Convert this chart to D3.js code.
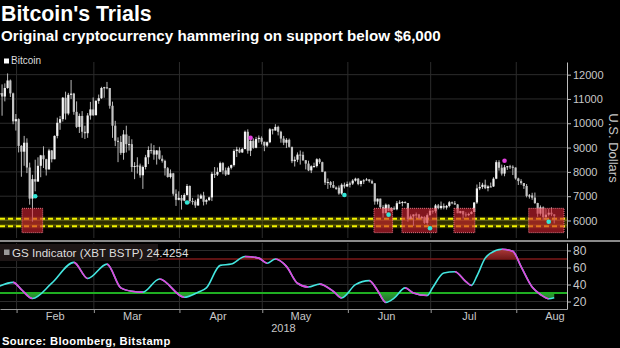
<!DOCTYPE html>
<html>
<head>
<meta charset="utf-8">
<script src="https://cdn.jsdelivr.net/npm/d3@7"></script>
<style>
  html, body { margin: 0; padding: 0; background: #000; }
  svg { display: block; }
  text { font-family: "Liberation Sans", Arial, sans-serif; }
</style>
</head>
<body>
<svg id="chart" width="620" height="348"></svg>
<script>
// ---- Bitcoin daily candles (Bitstamp, USD), 2018-01-25 .. 2018-08-14 ----
const firstDay = "2018-01-25";
const opens = [
  11180, 11240, 11100, 11450, 11760, 11230, 10080,
  10170, 9070, 8830, 9200, 8180, 6900, 7700, 7600, 8250, 8680, 8520, 8100, 8880, 8520, 9480, 10020, 10170, 11050, 10400, 11170, 11220, 10470, 9850, 10300, 9650, 9590, 10320, 10570,
  10330, 10920, 11030, 11450, 11480, 11450, 10720, 9900, 9280, 9230, 8780, 9540, 9140, 9140, 8200, 8240, 8260, 7860, 8200, 8600, 8900, 8890, 8710, 8880, 8540, 8450, 8150, 7790, 7940, 7100, 6850,
  6930, 6820, 7050, 7420, 6800, 6780, 6620, 6900, 7030, 6770, 6840, 6950, 7920, 7890, 8000, 8360, 8060, 7890, 8170, 8280, 8860, 8920, 8800, 8940, 9650, 8870, 9280, 8990, 9350, 9400,
  9240, 9080, 9220, 9750, 9700, 9850, 9650, 9370, 9200, 9320, 9030, 8440, 8500, 8710, 8700, 8480, 8340, 8060, 8230, 8240, 8520, 8400, 8000, 7560, 7580, 7460, 7350, 7350, 7110, 7470, 7400,
  7500, 7520, 7640, 7720, 7500, 7630, 7650, 7690, 7620, 7530, 6780, 6900, 6550, 6300, 6650, 6400, 6500, 6460, 6710, 6740, 6760, 6720, 6060, 6170, 6250, 6250, 6090, 6150, 5900, 6220,
  6400, 6380, 6620, 6510, 6600, 6530, 6600, 6750, 6710, 6660, 6300, 6390, 6250, 6220, 6270, 6350, 6740, 7320, 7380, 7470, 7330, 7400, 7400, 7720, 8400, 8170, 7930, 8190, 8230, 8210, 8180,
  7730, 7620, 7540, 7420, 7010, 7030, 6940, 6720, 6280, 6540, 6140, 6240, 6320, 6250
];
const highs = [
  11650, 11600, 11640, 12050, 11800, 11260, 10380,
  10200, 9100, 9480, 9380, 8380, 7880, 8500, 8600, 8700, 9050, 8540, 8950, 8900, 9500, 10230, 10300, 11080, 11300, 11250, 11780, 11250, 10900, 10400, 10500, 9900, 10420, 10880, 11060,
  10950, 11180, 11500, 11500, 11700, 11450, 10890, 10100, 9420, 9480, 9720, 9900, 9480, 9340, 8400, 8600, 8340, 8260, 8700, 9050, 9170, 9100, 8900, 9030, 8680, 8500, 8200, 8100, 7960, 7280, 7200,
  7050, 7120, 7500, 7440, 6930, 6850, 7070, 7100, 7180, 6890, 6980, 8000, 8200, 8180, 8420, 8400, 8180, 8230, 8300, 8930, 9030, 9000, 8990, 9700, 9750, 9300, 9380, 9440, 9500, 9460,
  9240, 9250, 9800, 9770, 9960, 9900, 9690, 9480, 9390, 9370, 9030, 8630, 8800, 8880, 8830, 8490, 8460, 8270, 8380, 8560, 8560, 8420, 8030, 7730, 7620, 7620, 7400, 7440, 7530, 7560, 7600,
  7600, 7700, 7760, 7750, 7640, 7700, 7750, 7700, 7680, 7530, 6900, 6900, 6630, 6700, 6660, 6550, 6580, 6800, 6830, 6800, 6790, 6720, 6250, 6250, 6330, 6270, 6190, 6170, 6290, 6480,
  6420, 6680, 6680, 6780, 6700, 6640, 6800, 6780, 6800, 6680, 6400, 6400, 6340, 6320, 6390, 6750, 7480, 7580, 7550, 7680, 7450, 7560, 7780, 8480, 8480, 8300, 8280, 8240, 8290, 8270, 8180,
  7760, 7700, 7540, 7500, 7090, 7140, 7150, 6730, 6620, 6580, 6470, 6470, 6540, 6260
];
const lows = [
  10950, 10310, 10900, 11420, 11080, 9960, 9700,
  8800, 7800, 8250, 7950, 6650, 5950, 7200, 7600, 7780, 8160, 7850, 8100, 8390, 8520, 9380, 9730, 10070, 10150, 10330, 11000, 10350, 9800, 9600, 9400, 9350, 9400, 10150, 10300,
  10330, 10800, 11000, 11050, 11400, 10600, 9400, 9060, 8400, 8700, 8500, 8800, 8880, 8000, 7700, 7930, 7760, 7300, 8100, 8320, 8750, 8500, 8300, 8500, 8380, 7850, 7760, 7730, 7020, 6600, 6830,
  6450, 6790, 7020, 6700, 6650, 6520, 6600, 6900, 6620, 6660, 6800, 6800, 7750, 7830, 7990, 7900, 7830, 7880, 8100, 8220, 8610, 8770, 8780, 8930, 8750, 8650, 8950, 8970, 9200, 9130,
  8850, 9020, 9180, 9540, 9700, 9500, 9200, 9100, 8980, 9000, 8360, 8220, 8400, 8300, 8450, 8100, 8030, 7950, 8170, 8180, 8330, 7990, 7460, 7300, 7350, 7330, 7260, 7060, 7060, 7320, 7380,
  7360, 7460, 7600, 7450, 7400, 7500, 7640, 7560, 7500, 6650, 6660, 6500, 6120, 6300, 6390, 6350, 6440, 6420, 6680, 6580, 6700, 5950, 6050, 5780, 6100, 6060, 6030, 5860, 5820, 6200,
  6280, 6300, 6460, 6450, 6460, 6450, 6540, 6670, 6640, 6300, 6290, 6080, 6150, 6180, 6250, 6340, 6680, 7250, 7300, 7290, 7200, 7380, 7380, 7700, 8050, 7850, 7820, 8080, 8120, 7870, 7680,
  7460, 7470, 7300, 6950, 6900, 6850, 6680, 6150, 6200, 6030, 6020, 6170, 6180, 5880
];
const closes = [
  11240, 11100, 11450, 11760, 11230, 10080, 10170,
  9070, 8830, 9200, 8180, 6900, 7700, 7600, 8250, 8680, 8520, 8100, 8880, 8520, 9480, 10020, 10170, 11050, 10400, 11170, 11220, 10470, 9850, 10300, 9650, 9590, 10320, 10570, 10330,
  10920, 11030, 11450, 11480, 11450, 10720, 9900, 9280, 9230, 8780, 9540, 9140, 9140, 8200, 8240, 8260, 7860, 8200, 8600, 8900, 8890, 8710, 8880, 8540, 8450, 8150, 7790, 7940, 7100, 6850, 6930,
  6820, 7050, 7420, 6800, 6780, 6620, 6900, 7030, 6770, 6840, 6950, 7920, 7890, 8000, 8360, 8060, 7890, 8170, 8280, 8860, 8920, 8800, 8940, 9650, 8870, 9280, 8990, 9350, 9400, 9240,
  9080, 9220, 9750, 9700, 9850, 9650, 9370, 9200, 9320, 9030, 8440, 8500, 8710, 8700, 8480, 8340, 8060, 8230, 8240, 8520, 8400, 8000, 7560, 7580, 7460, 7350, 7350, 7110, 7470, 7400, 7500,
  7520, 7640, 7720, 7500, 7630, 7650, 7690, 7620, 7530, 6780, 6900, 6550, 6300, 6650, 6400, 6500, 6460, 6710, 6740, 6760, 6720, 6060, 6170, 6250, 6250, 6090, 6150, 5900, 6220, 6400,
  6380, 6620, 6510, 6600, 6530, 6600, 6750, 6710, 6660, 6300, 6390, 6250, 6220, 6270, 6350, 6740, 7320, 7380, 7470, 7330, 7400, 7400, 7720, 8400, 8170, 7930, 8190, 8230, 8210, 8180, 7730,
  7620, 7540, 7420, 7010, 7030, 6940, 6720, 6280, 6540, 6140, 6240, 6320, 6250, 6190
];

// ---- GS Indicator (XBT BSTP) ----
const gsDates = [
  "2018-01-25", "2018-01-30", "2018-02-02", "2018-02-06", "2018-02-13", "2018-02-21", "2018-02-26",
  "2018-03-05", "2018-03-10", "2018-03-14", "2018-03-18", "2018-03-24", "2018-04-02", "2018-04-07",
  "2018-04-10", "2018-04-15", "2018-04-19", "2018-04-24", "2018-04-29", "2018-05-02", "2018-05-05",
  "2018-05-09", "2018-05-13", "2018-05-17", "2018-05-21", "2018-05-26", "2018-05-29", "2018-06-03",
  "2018-06-08", "2018-06-11", "2018-06-14", "2018-06-17", "2018-06-21", "2018-06-24", "2018-06-29",
  "2018-07-01", "2018-07-05", "2018-07-09", "2018-07-13", "2018-07-15", "2018-07-17", "2018-07-20",
  "2018-07-22", "2018-07-26", "2018-07-30", "2018-08-02", "2018-08-06", "2018-08-09", "2018-08-12",
  "2018-08-14"
];
const gsValues = [
  38, 42.5, 34, 23.5, 41.5, 66, 47,
  64, 36, 32, 31, 46.5, 25, 31,
  36, 62.5, 64, 73, 71, 65, 70,
  61.3, 41.5, 37, 40.5, 32, 24.3, 39.9,
  44.6, 33, 19, 24, 36, 30, 27,
  36.5, 53.5, 55, 43.5, 39, 50, 71,
  77, 81.5, 79, 61, 37, 28.2, 23.3,
  24.4254
];
const gsOverbought = 70;
const gsOversold = 30;

// ---- signal markers ----
const buyDates = ["2018-02-07", "2018-04-03", "2018-05-30", "2018-06-15", "2018-06-30", "2018-08-12"];
const buyPrices = [7000, 6740, 7050, 6240, 5680, 5950];
const sellDates = ["2018-04-26", "2018-07-27"];
const sellPrices = [9400, 8460];

// ---- hammer zones and support ----
const zoneStarts = ["2018-02-02 23", "2018-06-10 11", "2018-06-20 14", "2018-07-09 10", "2018-08-05 12"];
const zoneEnds   = ["2018-02-10 11", "2018-06-17 05", "2018-07-03 05", "2018-07-17 00", "2018-08-18 07"];
const zoneLow = 5500, zoneHigh = 6500;
const supportLevels = [6075, 5765];

// ---- axis labels ----
const priceTicks = [6000, 7000, 8000, 9000, 10000, 11000, 12000];
const gsTicks = [20, 40, 60, 80];
const monthLabels = ["Feb", "Mar", "Apr", "May", "Jun", "Jul", "Aug"];
const yearLabel = "2018";

// ---- layout ----
const plotRight = 567;
const upTop = 62, upBottom = 238;
const loTop = 243, loBottom = 309;
const txtColor = "#c8c8c8";
const gridColor = "#2c2c2c";

const parseDay = d3.utcParse("%Y-%m-%d");
const parseHour = d3.utcParse("%Y-%m-%d %H");

const x = d3.scaleUtc()
  .domain([parseDay("2018-01-26"), parseHour("2018-08-19 09")])
  .range([0, plotRight]);
// each daily bar sits late in its day
const xc = d => x(d3.utcHour.offset(d, 18));

const yP = d3.scaleLinear().domain([5280, 12520]).range([upBottom, upTop]);
const yG = d3.scaleLinear().domain([11.2, 88.8]).range([loBottom, loTop]);

const start = parseDay(firstDay);
const candles = opens.map((o, i) => ({
  date: d3.utcDay.offset(start, i), o, h: highs[i], l: lows[i], c: closes[i]
}));
const gs = gsDates.map((d, i) => ({ date: parseDay(d), v: gsValues[i] }));

const svg = d3.select("#chart");
const defs = svg.append("defs");

defs.append("clipPath").attr("id", "clipUp").append("rect")
  .attr("x", 0).attr("y", upTop).attr("width", plotRight).attr("height", upBottom - upTop);
defs.append("clipPath").attr("id", "clipLo").append("rect")
  .attr("x", 0).attr("y", loTop).attr("width", plotRight).attr("height", loBottom - loTop);

// ---- titles ----
svg.append("text").attr("x", 1).attr("y", 21)
  .attr("font-size", 21.3).attr("font-weight", "bold").attr("fill", "#fff")
  .text("Bitcoin's Trials");
svg.append("text").attr("x", 1).attr("y", 41)
  .attr("font-size", 15.2).attr("font-weight", "bold").attr("fill", "#fff")
  .text("Original cryptocurrency hammering on support below $6,000");

// legend
svg.append("rect").attr("x", 4).attr("y", 58.5).attr("width", 5).attr("height", 5).attr("fill", "#fff");
svg.append("text").attr("x", 11).attr("y", 64).attr("font-size", 10).attr("fill", "#ddd").text("Bitcoin");

// ---- upper panel ----
const monthStarts = d3.utcMonth.range(parseDay("2018-02-01"), parseDay("2018-08-02"));
const up = svg.append("g");

up.append("g").selectAll("line").data(priceTicks).join("line")
  .attr("x1", 0).attr("x2", plotRight)
  .attr("y1", d => yP(d)).attr("y2", d => yP(d))
  .attr("stroke", gridColor).attr("stroke-width", 1);
up.append("g").selectAll("line").data(monthStarts).join("line")
  .attr("x1", d => x(d)).attr("x2", d => x(d))
  .attr("y1", upTop).attr("y2", upBottom)
  .attr("stroke", gridColor).attr("stroke-width", 1);

const upPlot = up.append("g").attr("clip-path", "url(#clipUp)");

// support band and dashed support lines
upPlot.append("rect")
  .attr("x", 0).attr("width", plotRight)
  .attr("y", yP(supportLevels[0])).attr("height", yP(supportLevels[1]) - yP(supportLevels[0]))
  .attr("fill", "rgba(110,110,0,0.42)");
supportLevels.forEach(lv => {
  upPlot.append("line").attr("x1", 0).attr("x2", plotRight)
    .attr("y1", yP(lv)).attr("y2", yP(lv))
    .attr("stroke", "rgba(200,200,0,0.22)").attr("stroke-width", 4);
  upPlot.append("line").attr("x1", 0).attr("x2", plotRight)
    .attr("y1", yP(lv)).attr("y2", yP(lv))
    .attr("stroke", "#f2f200").attr("stroke-width", 2).attr("stroke-dasharray", "5,3");
});

// candles
const cg = upPlot.append("g");
cg.selectAll("line").data(candles).join("line")
  .attr("x1", d => xc(d.date)).attr("x2", d => xc(d.date))
  .attr("y1", d => yP(d.h)).attr("y2", d => yP(d.l))
  .attr("stroke", "#b8b8b8").attr("stroke-width", 1);
cg.selectAll("rect").data(candles).join("rect")
  .attr("x", d => xc(d.date) - 1.1).attr("width", 2.2)
  .attr("y", d => yP(Math.max(d.o, d.c)))
  .attr("height", d => Math.max(1, Math.abs(yP(d.o) - yP(d.c))))
  .attr("fill", d => d.c >= d.o ? "#f4f4f4" : "#c4c4c4");

// hammer zones
upPlot.append("g").selectAll("rect").data(zoneStarts).join("rect")
  .attr("x", d => x(parseHour(d)))
  .attr("width", (d, i) => x(parseHour(zoneEnds[i])) - x(parseHour(d)))
  .attr("y", yP(zoneHigh)).attr("height", yP(zoneLow) - yP(zoneHigh))
  .attr("fill", "rgba(215,35,50,0.6)")
  .attr("stroke", "#e87585").attr("stroke-width", 1).attr("stroke-dasharray", "1,1");

// signal markers
upPlot.append("g").selectAll("circle").data(buyDates).join("circle")
  .attr("cx", d => xc(parseDay(d))).attr("cy", (d, i) => yP(buyPrices[i]))
  .attr("r", 2.3).attr("fill", "#33e6d6");
upPlot.append("g").selectAll("circle").data(sellDates).join("circle")
  .attr("cx", d => xc(parseDay(d))).attr("cy", (d, i) => yP(sellPrices[i]))
  .attr("r", 2.3).attr("fill", "#e040dc");

// right price axis
const axP = svg.append("g").attr("transform", `translate(${plotRight},0)`)
  .call(d3.axisRight(yP).tickValues(priceTicks).tickFormat(d3.format("d"))
    .tickSize(4).tickSizeOuter(0).tickPadding(2));
axP.select(".domain").attr("stroke", "#bdbdbd");
axP.selectAll(".tick line").attr("stroke", "#bdbdbd");
axP.selectAll(".tick text").attr("fill", txtColor).attr("font-size", 11)
  .attr("font-family", "Liberation Sans, Arial, sans-serif");

svg.append("text")
  .attr("transform", `translate(609,${(upTop + upBottom) / 2 - 2}) rotate(90)`)
  .attr("text-anchor", "middle").attr("font-size", 13).attr("fill", txtColor)
  .text("U.S. Dollars");

// panel separator
svg.append("line").attr("x1", 0).attr("x2", 620).attr("y1", 241).attr("y2", 241)
  .attr("stroke", "#8a8a8a").attr("stroke-width", 2);

// ---- lower panel ----
const lo = svg.append("g");
lo.append("g").selectAll("line").data(gsTicks).join("line")
  .attr("x1", 0).attr("x2", plotRight)
  .attr("y1", d => yG(d)).attr("y2", d => yG(d))
  .attr("stroke", gridColor).attr("stroke-width", 1);
lo.append("g").selectAll("line").data(monthStarts).join("line")
  .attr("x1", d => x(d)).attr("x2", d => x(d))
  .attr("y1", loTop).attr("y2", loBottom)
  .attr("stroke", gridColor).attr("stroke-width", 1);

const loPlot = lo.append("g").attr("clip-path", "url(#clipLo)");

const gGreen = defs.append("linearGradient").attr("id", "gGreen")
  .attr("gradientUnits", "userSpaceOnUse").attr("x1", 0).attr("x2", 0)
  .attr("y1", yG(gsOversold)).attr("y2", yG(15));
gGreen.append("stop").attr("offset", 0).attr("stop-color", "#2f9c35");
gGreen.append("stop").attr("offset", 1).attr("stop-color", "#1b5c20");
const gRed = defs.append("linearGradient").attr("id", "gRed")
  .attr("gradientUnits", "userSpaceOnUse").attr("x1", 0).attr("x2", 0)
  .attr("y1", yG(85)).attr("y2", yG(gsOverbought));
gRed.append("stop").attr("offset", 0).attr("stop-color", "#c04040");
gRed.append("stop").attr("offset", 1).attr("stop-color", "#6e1a1a");

defs.append("clipPath").attr("id", "belowOS").append("rect")
  .attr("x", 0).attr("width", plotRight).attr("y", yG(gsOversold)).attr("height", loBottom - yG(gsOversold));
defs.append("clipPath").attr("id", "aboveOB").append("rect")
  .attr("x", 0).attr("width", plotRight).attr("y", loTop).attr("height", yG(gsOverbought) - loTop);

const curve = d3.curveMonotoneX;
loPlot.append("path").datum(gs).attr("clip-path", "url(#belowOS)")
  .attr("d", d3.area().x(d => xc(d.date)).y0(yG(gsOversold)).y1(d => yG(d.v)).curve(curve))
  .attr("fill", "url(#gGreen)");
loPlot.append("path").datum(gs).attr("clip-path", "url(#aboveOB)")
  .attr("d", d3.area().x(d => xc(d.date)).y0(yG(gsOverbought)).y1(d => yG(d.v)).curve(curve))
  .attr("fill", "url(#gRed)");

// threshold lines
loPlot.append("line").attr("x1", 0).attr("x2", plotRight)
  .attr("y1", yG(gsOverbought)).attr("y2", yG(gsOverbought))
  .attr("stroke", "#7c1818").attr("stroke-width", 1.5);
loPlot.append("line").attr("x1", 0).attr("x2", plotRight)
  .attr("y1", yG(gsOversold)).attr("y2", yG(gsOversold))
  .attr("stroke", "#1fae22").attr("stroke-width", 2);

// indicator line: cyan rising, magenta falling
const gsLine = d3.line().x(d => xc(d.date)).y(d => yG(d.v)).curve(curve);
const fallClip = defs.append("clipPath").attr("id", "falling");
gs.forEach((p, i) => {
  if (i < gs.length - 1 && gs[i + 1].v < p.v) {
    fallClip.append("rect")
      .attr("x", xc(p.date)).attr("width", xc(gs[i + 1].date) - xc(p.date))
      .attr("y", loTop).attr("height", loBottom - loTop);
  }
});
loPlot.append("path").datum(gs).attr("d", gsLine)
  .attr("fill", "none").attr("stroke", "#44e6e0").attr("stroke-width", 1.6);
loPlot.append("path").datum(gs).attr("d", gsLine).attr("clip-path", "url(#falling)")
  .attr("fill", "none").attr("stroke", "#e244dc").attr("stroke-width", 1.6);

// lower legend
lo.append("rect").attr("x", 0).attr("y", 244).attr("width", 158).attr("height", 17)
  .attr("fill", "#1d1616");
lo.append("rect").attr("x", 4).attr("y", 249.5).attr("width", 5.5).attr("height", 5.5).attr("fill", "#9a9a9a");
lo.append("text").attr("x", 12).attr("y", 256.5).attr("font-size", 11.6).attr("fill", "#ddd")
  .text("GS Indicator (XBT BSTP) " + gsValues[gsValues.length - 1].toFixed(4));

// right indicator axis
const axG = svg.append("g").attr("transform", `translate(${plotRight},0)`)
  .call(d3.axisRight(yG).tickValues(gsTicks).tickSize(4).tickSizeOuter(0).tickPadding(2));
axG.select(".domain").attr("stroke", "#bdbdbd");
axG.selectAll(".tick line").attr("stroke", "#bdbdbd");
axG.selectAll(".tick text").attr("fill", txtColor).attr("font-size", 12)
  .attr("font-family", "Liberation Sans, Arial, sans-serif");

// ---- time axis ----
const axX = svg.append("g").attr("transform", `translate(0,${loBottom})`)
  .call(d3.axisBottom(x).tickValues(monthStarts).tickSize(4).tickSizeOuter(0).tickFormat(""));
axX.select(".domain").attr("stroke", "#9a9a9a");
axX.selectAll(".tick line").attr("stroke", "#9a9a9a");

svg.append("g").selectAll("text").data(monthLabels).join("text")
  .attr("x", (d, i) => x(d3.utcDay.offset(monthStarts[i], 14)))
  .attr("y", 320).attr("text-anchor", "middle")
  .attr("font-size", 11).attr("fill", txtColor).text(d => d);
svg.append("text").attr("x", plotRight / 2).attr("y", 332).attr("text-anchor", "middle")
  .attr("font-size", 11).attr("fill", txtColor).text(yearLabel);

// source
svg.append("text").attr("x", 2).attr("y", 345)
  .attr("font-size", 11.2).attr("font-weight", "bold").attr("fill", "#fff")
  .attr("letter-spacing", 0.4)
  .text("Source: Bloomberg, Bitstamp");
</script>
</body>
</html>
